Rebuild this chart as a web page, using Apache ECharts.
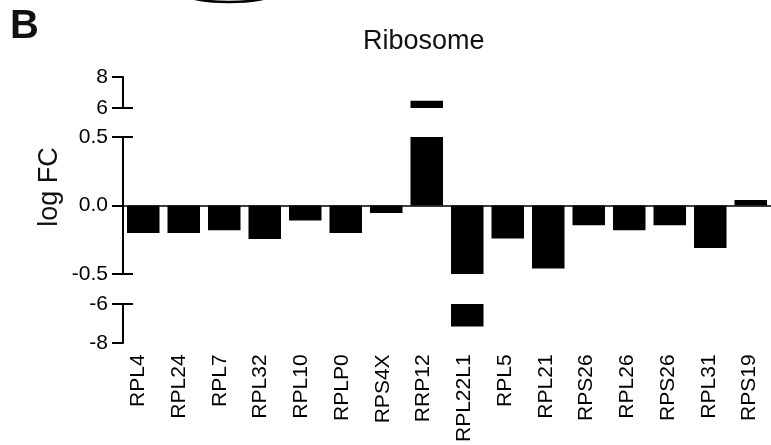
<!DOCTYPE html>
<html><head><meta charset="utf-8">
<script src="https://cdn.jsdelivr.net/npm/echarts@6/dist/echarts.min.js"></script>
<style>html,body{margin:0;padding:0;background:#fff}#c{width:771px;height:445px}</style>
</head><body><div id="c"></div>
<script>
const categories = ['RPL4','RPL24','RPL7','RPL32','RPL10','RPLP0','RPS4X','RRP12','RPL22L1','RPL5','RPL21','RPS26','RPL26','RPS26','RPL31','RPS19'];
const logFC = [-0.20,-0.20,-0.18,-0.245,-0.11,-0.20,-0.055,6.47,-7.16,-0.24,-0.46,-0.145,-0.18,-0.145,-0.31,0.04];
const segTop = [6, 8];
const segMid = [-0.5, 0.5];
const segBot = [-8, -6];
const intervals = [2, 0.5, 2];
const titleText = 'Ribosome';
const yName = 'log FC';
const panelLetter = 'B';

const FONT = '"Liberation Sans", Arial, Helvetica, sans-serif';
const chart = echarts.init(document.getElementById('c'), null, {renderer: 'canvas'});
const GRID_W = 652;
const gridBox = [{top: 77, height: 31}, {top: 137, height: 137}, {top: 304, height: 39}];
const ranges = [segTop, segMid, segBot];
// which end of each segment gets a break cap (0 = lower end, 1 = upper end)
const capEnds = [[0], [0, 1], [1]];

const grids = gridBox.map(g => ({left: 123, width: GRID_W, top: g.top, height: g.height, containLabel: false}));
// extra grid only carrying the category labels (slightly offset like the original)
grids.push({left: 118, width: GRID_W, top: 304, height: 39, containLabel: false});

const xAxes = [0, 1, 2].map(i => ({
  type: 'category', gridIndex: i, data: categories,
  axisLine: {show: i === 1, onZero: true, onZeroAxisIndex: i, lineStyle: {color: '#000', width: 1.5}},
  axisTick: {show: false},
  axisLabel: {show: false},
  splitLine: {show: false}
}));
xAxes.push({
  type: 'category', gridIndex: 3, data: categories,
  axisLine: {show: false, onZero: false}, axisTick: {show: false},
  axisLabel: {show: true, interval: 0, rotate: 90, fontSize: 21, color: '#000', fontFamily: FONT, margin: 12},
  splitLine: {show: false}
});

const yAxes = [];
[0, 1, 2].forEach(i => {
  yAxes.push({
    type: 'value', gridIndex: i, position: 'left', min: ranges[i][0], max: ranges[i][1], interval: intervals[i],
    axisLine: {show: true, lineStyle: {color: '#000', width: 2}},
    axisTick: {show: true, length: 11, lineStyle: {color: '#000', width: 2}},
    axisLabel: {fontSize: 21, color: '#000', fontFamily: FONT, margin: 15,
      formatter: v => i === 1 ? v.toFixed(1) : String(v)},
    splitLine: {show: false}
  });
});
yAxes.push({type: 'value', gridIndex: 3, show: false});
[0, 1, 2].forEach(i => {
  yAxes.push({
    type: 'category', gridIndex: i, position: 'left', data: ['lo', 'hi'], boundaryGap: false,
    axisLine: {show: false},
    axisTick: {show: true, inside: true, length: 10, interval: (idx) => capEnds[i].indexOf(idx) >= 0,
      lineStyle: {color: '#000', width: 2}},
    axisLabel: {show: false},
    splitLine: {show: false}
  });
});

const dataTop = logFC.map(v => v > segMid[1] ? v : '-');
const dataMid = logFC.slice();
const dataBot = logFC.map(v => v < segMid[0] ? v : '-');
const series = [dataTop, dataMid, dataBot].map((d, i) => ({
  type: 'bar', xAxisIndex: i, yAxisIndex: i, data: d, barWidth: 32.5,
  itemStyle: {color: '#000'}, clip: true, silent: true
}));

chart.setOption({
  animation: false,
  backgroundColor: '#fff',
  grid: grids, xAxis: xAxes, yAxis: yAxes, series: series,
  graphic: [
    {type: 'ellipse', shape: {cx: 229, cy: -5.4, rx: 42, ry: 7.4}, style: {fill: 'none', stroke: '#000', lineWidth: 2.5}},
    {type: 'text', x: 10, y: 7, style: {text: panelLetter, font: 'bold 40px ' + FONT, fill: '#111'}},
    {type: 'text', x: 363, y: 28, style: {text: titleText, font: '27px ' + FONT, fill: '#111'}},
    {type: 'text', x: 50, y: 187, rotation: Math.PI / 2, style: {text: yName, font: '27px ' + FONT, fill: '#111', align: 'center', verticalAlign: 'middle'}}
  ]
});
</script></body></html>
